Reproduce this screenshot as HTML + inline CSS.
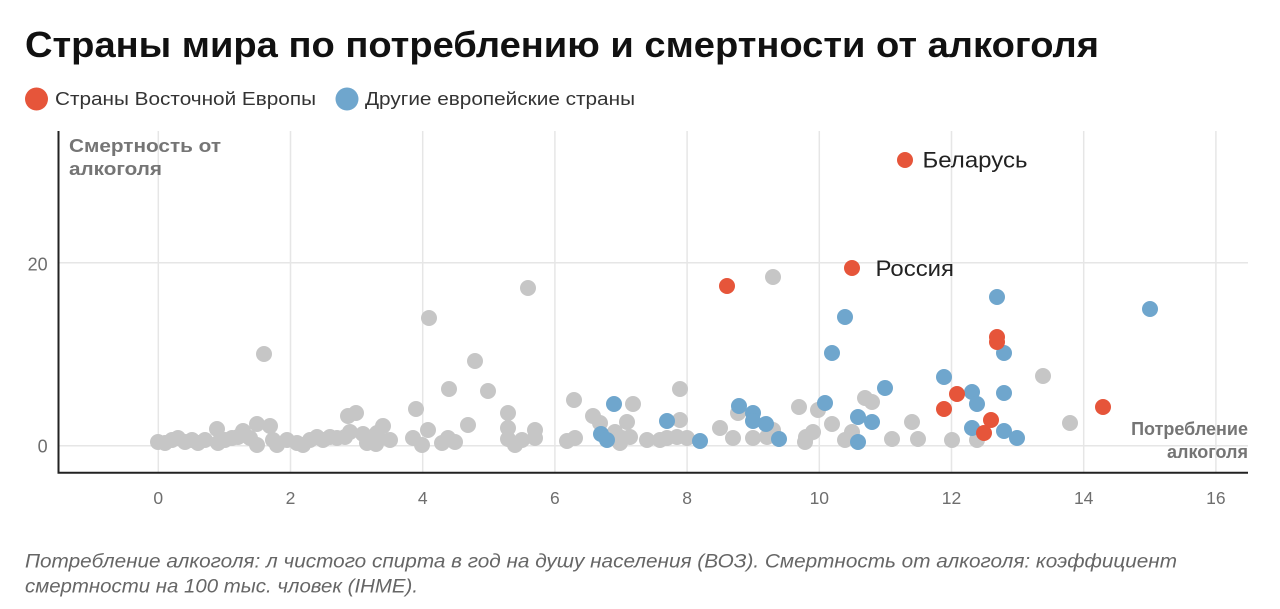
<!DOCTYPE html>
<html>
<head>
<meta charset="utf-8">
<style>
html,body{margin:0;padding:0;background:#fff;}
svg{display:block;}
text{font-family:"Liberation Sans","Noto Sans CJK SC",sans-serif;}
</style>
</head>
<body>
<svg width="1280" height="609" viewBox="0 0 1280 609" xmlns="http://www.w3.org/2000/svg">
<rect width="1280" height="609" fill="#fff"/>
<!-- Title -->
<text x="25" y="57" font-size="36" font-weight="bold" fill="#111" textLength="1074" lengthAdjust="spacingAndGlyphs">Страны мира по потреблению и смертности от алкоголя</text>
<!-- Legend -->
<circle cx="36.5" cy="99" r="11.5" fill="#e6553a"/>
<text x="55" y="105" font-size="18.5" fill="#333" textLength="261" lengthAdjust="spacingAndGlyphs">Страны Восточной Европы</text>
<circle cx="347" cy="99" r="11.5" fill="#6fa6cd"/>
<text x="365" y="105" font-size="18.5" fill="#333" textLength="270" lengthAdjust="spacingAndGlyphs">Другие европейские страны</text>

<!-- Grid -->
<g stroke="#e6e6e6" stroke-width="1.5">
<line x1="158.3" y1="131" x2="158.3" y2="472"/>
<line x1="290.5" y1="131" x2="290.5" y2="472"/>
<line x1="422.7" y1="131" x2="422.7" y2="472"/>
<line x1="554.9" y1="131" x2="554.9" y2="472"/>
<line x1="687.1" y1="131" x2="687.1" y2="472"/>
<line x1="819.3" y1="131" x2="819.3" y2="472"/>
<line x1="951.5" y1="131" x2="951.5" y2="472"/>
<line x1="1083.7" y1="131" x2="1083.7" y2="472"/>
<line x1="1215.9" y1="131" x2="1215.9" y2="472"/>
<line x1="59" y1="445.7" x2="1248" y2="445.7"/>
<line x1="59" y1="262.7" x2="1248" y2="262.7"/>
</g>
<!-- Axes -->
<line x1="58.5" y1="131" x2="58.5" y2="473.5" stroke="#222" stroke-width="2"/>
<line x1="57.5" y1="472.7" x2="1248" y2="472.7" stroke="#222" stroke-width="2"/>

<!-- Tick labels -->
<g font-size="17.5" fill="#6e6e6e" text-anchor="middle">
<text x="158.3" y="504">0</text>
<text x="290.5" y="504">2</text>
<text x="422.7" y="504">4</text>
<text x="554.9" y="504">6</text>
<text x="687.1" y="504">8</text>
<text x="819.3" y="504">10</text>
<text x="951.5" y="504">12</text>
<text x="1083.7" y="504">14</text>
<text x="1215.9" y="504">16</text>
</g>
<g font-size="18" fill="#6e6e6e" text-anchor="end">
<text x="47.7" y="270.5">20</text>
<text x="47.7" y="452.5">0</text>
</g>

<!-- Axis titles -->
<text x="69" y="152" font-size="18" font-weight="bold" fill="#757575" textLength="152" lengthAdjust="spacingAndGlyphs">Смертность от</text>
<text x="69" y="175" font-size="18" font-weight="bold" fill="#757575" textLength="93" lengthAdjust="spacingAndGlyphs">алкоголя</text>
<text x="1248" y="435" font-size="18" font-weight="bold" fill="#757575" text-anchor="end">Потребление</text>
<text x="1248" y="458" font-size="18" font-weight="bold" fill="#757575" text-anchor="end">алкоголя</text>

<!-- Gray dots -->
<g fill="#c6c6c6">
<circle cx="158" cy="442" r="8"/><circle cx="165" cy="443" r="8"/><circle cx="172" cy="440" r="8"/><circle cx="178" cy="438" r="8"/>
<circle cx="185" cy="442" r="8"/><circle cx="192" cy="440" r="8"/><circle cx="198" cy="443" r="8"/><circle cx="205" cy="440" r="8"/>
<circle cx="217" cy="429" r="8"/><circle cx="218" cy="443" r="8"/><circle cx="225" cy="440" r="8"/><circle cx="232" cy="438" r="8"/>
<circle cx="238" cy="437" r="8"/><circle cx="243" cy="431" r="8"/><circle cx="250" cy="438" r="8"/><circle cx="257" cy="424" r="8"/>
<circle cx="257" cy="445" r="8"/><circle cx="264" cy="354" r="8"/><circle cx="270" cy="426" r="8"/><circle cx="273" cy="440" r="8"/>
<circle cx="277" cy="445" r="8"/><circle cx="287" cy="440" r="8"/><circle cx="297" cy="443" r="8"/><circle cx="303" cy="445" r="8"/>
<circle cx="310" cy="440" r="8"/><circle cx="317" cy="437" r="8"/><circle cx="323" cy="440" r="8"/><circle cx="330" cy="437" r="8"/>
<circle cx="337" cy="438" r="8"/><circle cx="345" cy="437" r="8"/><circle cx="348" cy="416" r="8"/><circle cx="356" cy="413" r="8"/>
<circle cx="350" cy="432" r="8"/><circle cx="363" cy="434" r="8"/><circle cx="367" cy="443" r="8"/><circle cx="376" cy="444" r="8"/>
<circle cx="383" cy="426" r="8"/><circle cx="390" cy="440" r="8"/><circle cx="377" cy="433" r="8"/>
<circle cx="416" cy="409" r="8"/><circle cx="428" cy="430" r="8"/><circle cx="413" cy="438" r="8"/><circle cx="422" cy="445" r="8"/>
<circle cx="442" cy="443" r="8"/><circle cx="448" cy="438" r="8"/><circle cx="455" cy="442" r="8"/><circle cx="468" cy="425" r="8"/>
<circle cx="429" cy="318" r="8"/><circle cx="528" cy="288" r="8"/><circle cx="475" cy="361" r="8"/><circle cx="449" cy="389" r="8"/>
<circle cx="488" cy="391" r="8"/><circle cx="508" cy="413" r="8"/><circle cx="508" cy="428" r="8"/><circle cx="535" cy="430" r="8"/>
<circle cx="535" cy="438" r="8"/><circle cx="508" cy="439" r="8"/><circle cx="522" cy="440" r="8"/><circle cx="515" cy="445" r="8"/>
<circle cx="567" cy="441" r="8"/><circle cx="575" cy="438" r="8"/><circle cx="574" cy="400" r="8"/><circle cx="593" cy="416" r="8"/>
<circle cx="600" cy="423" r="8"/><circle cx="633" cy="404" r="8"/><circle cx="627" cy="422" r="8"/><circle cx="615" cy="432" r="8"/>
<circle cx="622" cy="438" r="8"/><circle cx="620" cy="443" r="8"/><circle cx="630" cy="437" r="8"/><circle cx="647" cy="440" r="8"/>
<circle cx="660" cy="440" r="8"/><circle cx="667" cy="438" r="8"/><circle cx="677" cy="437" r="8"/><circle cx="687" cy="438" r="8"/>
<circle cx="680" cy="389" r="8"/><circle cx="680" cy="420" r="8"/><circle cx="773" cy="277" r="8"/><circle cx="720" cy="428" r="8"/>
<circle cx="733" cy="438" r="8"/><circle cx="738" cy="413" r="8"/><circle cx="753" cy="438" r="8"/><circle cx="767" cy="437" r="8"/>
<circle cx="773" cy="430" r="8"/><circle cx="799" cy="407" r="8"/><circle cx="806" cy="437" r="8"/><circle cx="805" cy="442" r="8"/>
<circle cx="813" cy="432" r="8"/><circle cx="818" cy="410" r="8"/><circle cx="832" cy="424" r="8"/>
<circle cx="845" cy="440" r="8"/><circle cx="852" cy="432" r="8"/><circle cx="865" cy="398" r="8"/><circle cx="872" cy="402" r="8"/>
<circle cx="892" cy="439" r="8"/><circle cx="912" cy="422" r="8"/><circle cx="918" cy="439" r="8"/><circle cx="952" cy="440" r="8"/>
<circle cx="977" cy="440" r="8"/><circle cx="1043" cy="376" r="8"/><circle cx="1070" cy="423" r="8"/>
</g>
<!-- Blue dots -->
<g fill="#6fa6cd">
<circle cx="614" cy="404" r="8"/><circle cx="601" cy="434" r="8"/><circle cx="607" cy="440" r="8"/><circle cx="667" cy="421" r="8"/>
<circle cx="700" cy="441" r="8"/><circle cx="739" cy="406" r="8"/><circle cx="753" cy="413" r="8"/><circle cx="753" cy="421" r="8"/>
<circle cx="766" cy="424" r="8"/><circle cx="779" cy="439" r="8"/><circle cx="825" cy="403" r="8"/><circle cx="832" cy="353" r="8"/>
<circle cx="845" cy="317" r="8"/><circle cx="858" cy="417" r="8"/><circle cx="872" cy="422" r="8"/><circle cx="858" cy="442" r="8"/>
<circle cx="885" cy="388" r="8"/><circle cx="944" cy="377" r="8"/><circle cx="972" cy="392" r="8"/><circle cx="977" cy="404" r="8"/>
<circle cx="972" cy="428" r="8"/><circle cx="997" cy="297" r="8"/><circle cx="1004" cy="353" r="8"/><circle cx="1004" cy="393" r="8"/>
<circle cx="1004" cy="431" r="8"/><circle cx="1017" cy="438" r="8"/><circle cx="1150" cy="309" r="8"/>
</g>
<!-- Red dots -->
<g fill="#e6553a">
<circle cx="727" cy="286" r="8"/><circle cx="852" cy="268" r="8"/><circle cx="905" cy="160" r="8"/><circle cx="944" cy="409" r="8"/>
<circle cx="957" cy="394" r="8"/><circle cx="997" cy="337" r="8"/><circle cx="997" cy="342" r="8"/><circle cx="991" cy="420" r="8"/>
<circle cx="984" cy="433" r="8"/><circle cx="1103" cy="407" r="8"/>
</g>
<!-- Point labels -->
<text x="922.5" y="167.5" font-size="22" fill="#222" textLength="105" lengthAdjust="spacingAndGlyphs">Беларусь</text>
<text x="875.5" y="276" font-size="22" fill="#222" textLength="78.5" lengthAdjust="spacingAndGlyphs">Россия</text>

<!-- Footer -->
<text x="25" y="567.5" font-size="19.5" font-style="italic" fill="#666" textLength="1152" lengthAdjust="spacingAndGlyphs">Потребление алкоголя: л чистого спирта в год на душу населения (ВОЗ). Смертность от алкоголя: коэффициент</text>
<text x="25" y="592.5" font-size="19.5" font-style="italic" fill="#666" textLength="393" lengthAdjust="spacingAndGlyphs">смертности на 100 тыс. чловек (IHME).</text>
</svg>
</body>
</html>
